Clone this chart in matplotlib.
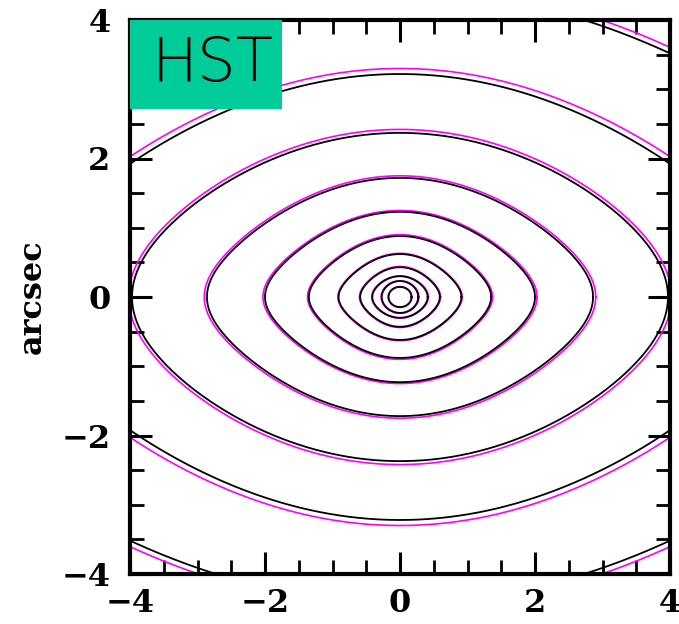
import numpy as np
import matplotlib
matplotlib.use("Agg")
import matplotlib.pyplot as plt
from matplotlib.patches import Rectangle
from matplotlib.ticker import MultipleLocator

# Model isophotes (black): semi-major, semi-minor (arcsec), lemon-shape factor
model_a = [0.17, 0.27, 0.41, 0.59, 0.91, 1.35, 2.00, 2.86, 3.97, 5.63, 7.90]
model_b = [0.145, 0.23, 0.30, 0.43, 0.62, 0.88, 1.23, 1.72, 2.37, 3.22, 4.42]
shape_k = [0.0, 0.05, 0.15, 0.25, 0.3, 0.3, 0.3, 0.28, 0.2, 0.3, 0.3]

# Data isophotes (magenta)
data_a = [0.175, 0.28, 0.42, 0.60, 0.92, 1.37, 2.03, 2.90, 4.02, 5.75, 8.00]
data_b = [0.150, 0.235, 0.305, 0.44, 0.63, 0.90, 1.25, 1.75, 2.42, 3.30, 4.50]

xticks = [-4, -2, 0, 2, 4]
yticks = [-4, -2, 0, 2, 4]
panel_label = "HST"

fig = plt.figure(figsize=(6.79, 6.24), dpi=100)
ax = fig.add_axes([130/679, 1-574/624, 540/679, 554/624])

t = np.linspace(0, 2*np.pi, 1441)
def iso(a, b, k):
    c, s = np.cos(t), np.sin(t)
    return (a*c, b*s*(1 - k*c**2))

for a, b, k in zip(data_a, data_b, shape_k):
    x, y = iso(a, b, k)
    ax.plot(x, y, color='#ff00ff', lw=1.2, zorder=2)
for a, b, k in zip(model_a, model_b, shape_k):
    x, y = iso(a, b, k)
    ax.plot(x, y, color='black', lw=1.3, zorder=3)

ax.set_xlim(-4, 4)
ax.set_ylim(-4, 4)
ax.set_xticks(xticks)
ax.set_yticks(yticks)
ax.xaxis.set_minor_locator(MultipleLocator(0.5))
ax.yaxis.set_minor_locator(MultipleLocator(0.5))
ax.tick_params(which='both', direction='in', top=True, right=True,
               labeltop=False, labelright=False)
ax.tick_params(which='major', length=16, width=2.2)
ax.tick_params(which='minor', length=10, width=2.0)
ax.tick_params(axis='x', which='major', pad=10)
ax.tick_params(axis='y', which='major', pad=14)
for s in ax.spines.values():
    s.set_linewidth(3)

tick_font = dict(family='DejaVu Serif', weight='bold', size=23)
ax.set_xticklabels([f"{v}".replace('-', '\u2212') for v in xticks], fontdict=tick_font)
ax.set_yticklabels([f"{v}".replace('-', '\u2212') for v in yticks], fontdict=tick_font)
ax.set_ylabel("arcsec", family='DejaVu Serif', weight='bold', size=23, labelpad=10)

ax.add_patch(Rectangle((-4, 2.715), 2.25, 1.285, facecolor='#00CC99',
                       edgecolor='none', zorder=5))
ax.text(-2.78, 3.36, panel_label, ha='center', va='center', fontsize=44,
        family=['Liberation Sans Narrow', 'DejaVu Sans'], fontweight='light',
        color='black', zorder=6)

fig.savefig("out.png", dpi=100)
